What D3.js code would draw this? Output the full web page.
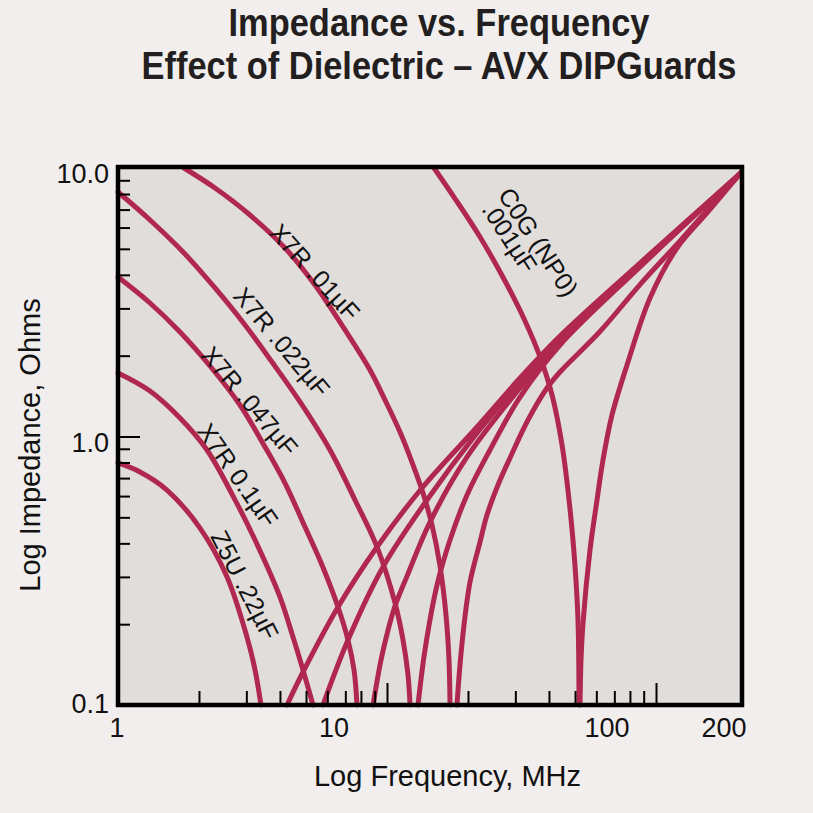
<!DOCTYPE html>
<html><head><meta charset="utf-8">
<script src="https://cdn.jsdelivr.net/npm/d3@7"></script>
<style>
html,body{margin:0;padding:0;background:#f1eeed;}
svg{display:block;}
</style></head><body>
<svg id="chart" width="813" height="813"></svg>
<script>
// ---------------- DATA (frequency MHz, impedance Ohms) ----------------
const titleLines = ["Impedance vs. Frequency", "Effect of Dielectric – AVX DIPGuards"];
const xAxisTitle = "Log Frequency, MHz";
const yAxisTitle = "Log Impedance, Ohms";

const xMinorTicks = [2,3,4,5,6,7,8,9,20,30,40,50,60,70,80,90];
const xMajorTicks = [10,100];
const yMinorTicks = [0.2,0.3,0.4,0.5,0.6,0.7,0.8,0.9,2,3,4,5,6,7,8,9];
const yMajorTicks = [1];
const xTickValues = [1,10,100,200];
const xTickLabels = ["1","10","100","200"];
const yTickValues = [10,1,0.1];
const yTickLabels = ["10.0","1.0","0.1"];

const z5uFall = [[1,0.797],[1.207,0.738],[1.521,0.632],[2.018,0.456],[2.543,0.300],[3.017,0.179],[3.232,0.135],[3.401,0.1]];
const z5uRise = [[4.249,0.1],[4.873,0.1327],[6.575,0.2317],[9.18,0.3878],[13.49,0.643],[21.61,1.085],[31.22,1.652],[43.97,2.368],[87.2,4.428],[207,9.6]];
const x7r100Fall = [[1,1.724],[1.315,1.477],[1.7,1.172],[2.142,0.891],[2.677,0.600],[3.232,0.4115],[4.002,0.2524],[4.473,0.179],[4.873,0.135],[5.308,0.1]];
const x7r100Rise = [[5.781,0.1],[7.161,0.1746],[9.663,0.3266],[14.08,0.580],[21.61,1.030],[31.22,1.596],[43.97,2.307],[87.2,4.39],[207,9.6]];
const x7r047Fall = [[1,3.926],[1.315,3.142],[1.7,2.45],[2.198,1.83],[2.841,1.31],[3.52,0.914],[4.176,0.671],[4.958,0.46],[5.732,0.332],[6.575,0.2317],[7.161,0.1746],[7.541,0.135],[7.736,0.1]];
const x7r047Rise = [[8.872,0.1],[9.5,0.1471],[10.09,0.1902],[10.71,0.2337],[11.87,0.302],[14.45,0.48],[19.84,0.839],[31.22,1.516],[43.97,2.268],[87.2,4.352],[207,9.6]];
const x7r022Fall = [[1,8.138],[1.315,6.403],[1.745,4.867],[2.294,3.574],[2.966,2.602],[3.737,1.894],[4.75,1.345],[6.139,0.891],[7.603,0.58],[9.18,0.3878],[10.71,0.2399],[11.47,0.1746],[11.97,0.1293],[12.18,0.1]];
const x7r022Rise = [[13.04,0.1],[13.84,0.1602],[15.35,0.28],[17.15,0.4115],[19.84,0.6056],[24.15,0.891],[31.22,1.403],[43.97,2.192],[87.2,4.279],[207,9.6]];
const x7r010Fall = [[1.759,10],[2.294,8.425],[3.095,6.683],[4.176,5.035],[5.399,3.666],[6.982,2.493],[8.646,1.769],[9.83,1.368],[11.18,1.039],[12.38,0.8035],[13.61,0.616],[14.7,0.468],[15.74,0.3295],[16.57,0.2164],[17.0,0.1471],[17.15,0.1]];
const x7r010Rise = [[18.2,0.1],[18.68,0.141],[19.33,0.1986],[20.35,0.287],[22.17,0.4046],[23.53,0.51],[25.86,0.66],[28.66,0.832],[33.43,1.152],[39.34,1.516],[43.97,1.739],[61.9,2.46],[87.2,3.68],[122.8,5.35],[154.7,6.95],[207,9.6]];
const c0gFall = [[14.95,10],[17.89,7.697],[22.17,5.534],[27.46,3.794],[32.59,2.693],[37.06,1.978],[41.06,1.428],[44.73,0.930],[47.9,0.537],[49.99,0.3295],[51.29,0.2073],[51.74,0.1]];
const c0gRise = [[52.19,0.1],[52.63,0.1471],[53.54,0.202],[56.84,0.378],[60.35,0.58],[63.53,0.818],[68.62,1.203],[78.03,1.846],[95.0,3.28],[119.7,5.035],[154.7,6.799],[207,9.6]];

const seriesBranches = [z5uFall, z5uRise, x7r100Fall, x7r100Rise, x7r047Fall, x7r047Rise,
                        x7r022Fall, x7r022Rise, x7r010Fall, x7r010Rise, c0gFall, c0gRise];
const curveLabelTexts = ["X7R .01µF","X7R .022µF","X7R .047µF","X7R 0.1µF","Z5U .22µF","C0G (NP0)",".001µF"];

// ---------------- LAYOUT ----------------
const W = 813, H = 813;
const plot = {left:118, right:741, top:168, bottom:705};
const colors = {page:"#f1eeed", plot:"#e1dddb", curve:"#b0284f", ink:"#111", title:"#231f20"};
// label anchors in data units and rotation angles
const curveLabelLayout = [
  {f:5.40, z:4.10, a:48},
  {f:4.07, z:2.249, a:50},
  {f:3.095, z:1.356, a:50},
  {f:2.793, z:0.719, a:55},
  {f:2.966, z:0.280, a:63},
  {f:36.6, z:5.30, a:57},
  {f:28.6, z:5.53, a:57}
];
const xLabelShift = [-1,-53,-49,-13];
const yLabelShift = [15,15.5,8];

const svg = d3.select("#chart");
svg.append("rect").attr("width",W).attr("height",H).attr("fill",colors.page);

const x = d3.scaleLog().domain([1,207]).range([plot.left, plot.right]);
const y = d3.scaleLog().domain([0.1,10]).range([plot.bottom, plot.top]);

svg.append("rect").attr("x",plot.left).attr("y",plot.top-1)
  .attr("width",plot.right-plot.left+1).attr("height",plot.bottom-plot.top+1)
  .attr("fill",colors.plot);

const line = d3.line().x(d=>x(d[0])).y(d=>y(d[1])).curve(d3.curveCatmullRom.alpha(0.5));
svg.append("g").selectAll("path").data(seriesBranches).join("path")
  .attr("d",line).attr("fill","none").attr("stroke",colors.curve)
  .attr("stroke-width",5).attr("stroke-linecap","round").attr("stroke-linejoin","round");

function ticks(axisGen, transform, size, vals){
  const g = svg.append("g").attr("transform",transform)
    .call(axisGen.tickValues(vals).tickSize(-size).tickFormat(""));
  g.select(".domain").remove();
  g.selectAll(".tick line").attr("stroke","#000").attr("stroke-width",2);
  g.selectAll(".tick text").remove();
}
ticks(d3.axisBottom(x), `translate(0,${plot.bottom})`, 14, xMinorTicks);
ticks(d3.axisBottom(x), `translate(0,${plot.bottom})`, 22, xMajorTicks);
ticks(d3.axisLeft(y), `translate(${plot.left},0)`, 12, yMinorTicks);
ticks(d3.axisLeft(y), `translate(${plot.left},0)`, 22, yMajorTicks);

svg.append("rect").attr("x",plot.left).attr("y",plot.top-1)
  .attr("width",plot.right-plot.left+1).attr("height",plot.bottom-plot.top+1)
  .attr("fill","none").attr("stroke","#000").attr("stroke-width",4.5);

const font = "'Liberation Sans', Arial, Helvetica, sans-serif";

// x tick labels
svg.append("g").selectAll("text").data(xTickValues).join("text")
  .attr("x",(d,i)=>x(d)+xLabelShift[i]).attr("y",737)
  .attr("text-anchor","middle").attr("font-family",font).attr("font-size",27).attr("fill",colors.ink)
  .text((d,i)=>xTickLabels[i]);
// y tick labels
svg.append("g").selectAll("text").data(yTickValues).join("text")
  .attr("x",109).attr("y",(d,i)=>y(d)+yLabelShift[i])
  .attr("text-anchor","end").attr("font-family",font).attr("font-size",27).attr("fill",colors.ink)
  .text((d,i)=>yTickLabels[i]);

// axis titles
svg.append("text").attr("x",(plot.left+plot.right)/2+18).attr("y",786)
  .attr("text-anchor","middle").attr("font-family",font).attr("font-size",29).attr("fill",colors.ink)
  .text(xAxisTitle);
svg.append("text").attr("transform",`translate(40,445) rotate(-90)`)
  .attr("text-anchor","middle").attr("font-family",font).attr("font-size",29).attr("fill",colors.ink)
  .text(yAxisTitle);

// titles
const titleWidths = [421,595];
const titleBase = [36,79];
titleLines.forEach((t,i)=>{
  svg.append("text").attr("x",439).attr("y",titleBase[i])
    .attr("text-anchor","middle").attr("font-family",font).attr("font-weight","bold")
    .attr("font-size",38).attr("fill",colors.title)
    .attr("textLength",titleWidths[i]).attr("lengthAdjust","spacingAndGlyphs")
    .text(t);
});

// curve labels
svg.append("g").selectAll("text").data(curveLabelTexts).join("text")
  .attr("transform",(d,i)=>`translate(${x(curveLabelLayout[i].f)},${y(curveLabelLayout[i].z)}) rotate(${curveLabelLayout[i].a})`)
  .attr("text-anchor","middle").attr("dy","0.36em")
  .attr("font-family",font).attr("font-size",25).attr("fill",colors.ink)
  .text(d=>d);
</script></body></html>
